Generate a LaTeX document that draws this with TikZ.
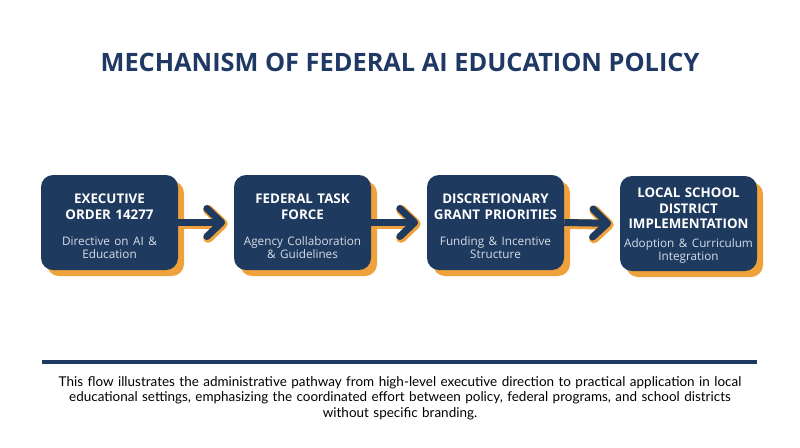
\documentclass[tikz,border=0pt]{standalone}
\usepackage{fontspec}
\setmainfont{Open Sans}
\newfontfamily\captionfont{Lato}
\usepackage{tikz}
\usetikzlibrary{arrows.meta,shadows}
\definecolor{navy}{HTML}{1F3A5F}
\definecolor{titlenavy}{HTML}{1F3864}
\definecolor{amber}{HTML}{EFA23B}
\definecolor{paleblue}{HTML}{D6DEEA}
\tikzset{
  stagebox/.style={fill=navy, rounded corners=9pt, minimum width=102.75pt, minimum height=71.25pt,
    text width=100pt, align=center, inner sep=0pt,
    drop shadow={shadow xshift=4.5pt, shadow yshift=-4.5pt, fill=amber, opacity=1}},
  flowline/.style={line width=5.25pt, navy, -{Straight Barb[length=11pt,width=21pt,line width=5.25pt, round]}, shorten >=6.5pt},
  flowglow/.style={line width=7.5pt, amber, -{Straight Barb[length=11pt,width=21pt,line width=7.5pt, round]}, shorten >=5.5pt}
}
\newcommand{\stagehead}[2][13pt]{{\color{white}\fontsize{10}{11.8}\selectfont\bfseries\rule{0pt}{#1}#2\par}}
\newcommand{\stagesub}[1]{{\color{paleblue}\fontsize{8.8}{9.75}\selectfont #1\par}}
\begin{document}
\begin{tikzpicture}[x=0.75pt, y=-0.75pt]
\useasboundingbox[fill=white] (0,0) rectangle (800,447);
\node (Title) at (400,62) {\color{titlenavy}\fontsize{19}{22}\selectfont\bfseries MECHANISM OF FEDERAL AI EDUCATION POLICY};

\node[stagebox] (Order) at (109.5,222.5) {\stagehead{EXECUTIVE\\ORDER 14277}\vspace{9.5pt}\stagesub{Directive on AI \&\\Education}};
\node[stagebox] (Force) at (302.5,222.5) {\stagehead{FEDERAL TASK\\FORCE}\vspace{9.5pt}\stagesub{Agency Collaboration\\\& Guidelines}};
\node[stagebox] (Grant) at (495.5,222.5) {\stagehead{DISCRETIONARY\\GRANT PRIORITIES}\vspace{9.5pt}\stagesub{Funding \& Incentive\\Structure}};
\node[stagebox] (Local) at (688.5,223.5) {\stagehead[10.5pt]{LOCAL SCHOOL\\DISTRICT\\IMPLEMENTATION}\vspace{4.5pt}\stagesub{Adoption \& Curriculum\\Integration}};

% connectors
\foreach \a/\b in {Order/Force, Force/Grant, Grant/Local}{
  \draw[flowglow, transform canvas={xshift=1pt, yshift=-1pt}] (\a.east) -- (\b.west);
  \draw[flowline] (\a.east) -- (\b.west);
}

\coordinate (RuleL) at (42,362);
\coordinate (RuleR) at (757,362);
\draw[navy, line width=3pt] (RuleL) -- (RuleR);
\node[align=center, text width=560pt] (Note) at (400,398) {\captionfont\fontsize{10.1}{11.25}\selectfont This flow illustrates the administrative pathway from high-level executive direction to practical application in local\\educational settings, emphasizing the coordinated effort between policy, federal programs, and school districts\\without specific branding.};
\end{tikzpicture}
\end{document}
